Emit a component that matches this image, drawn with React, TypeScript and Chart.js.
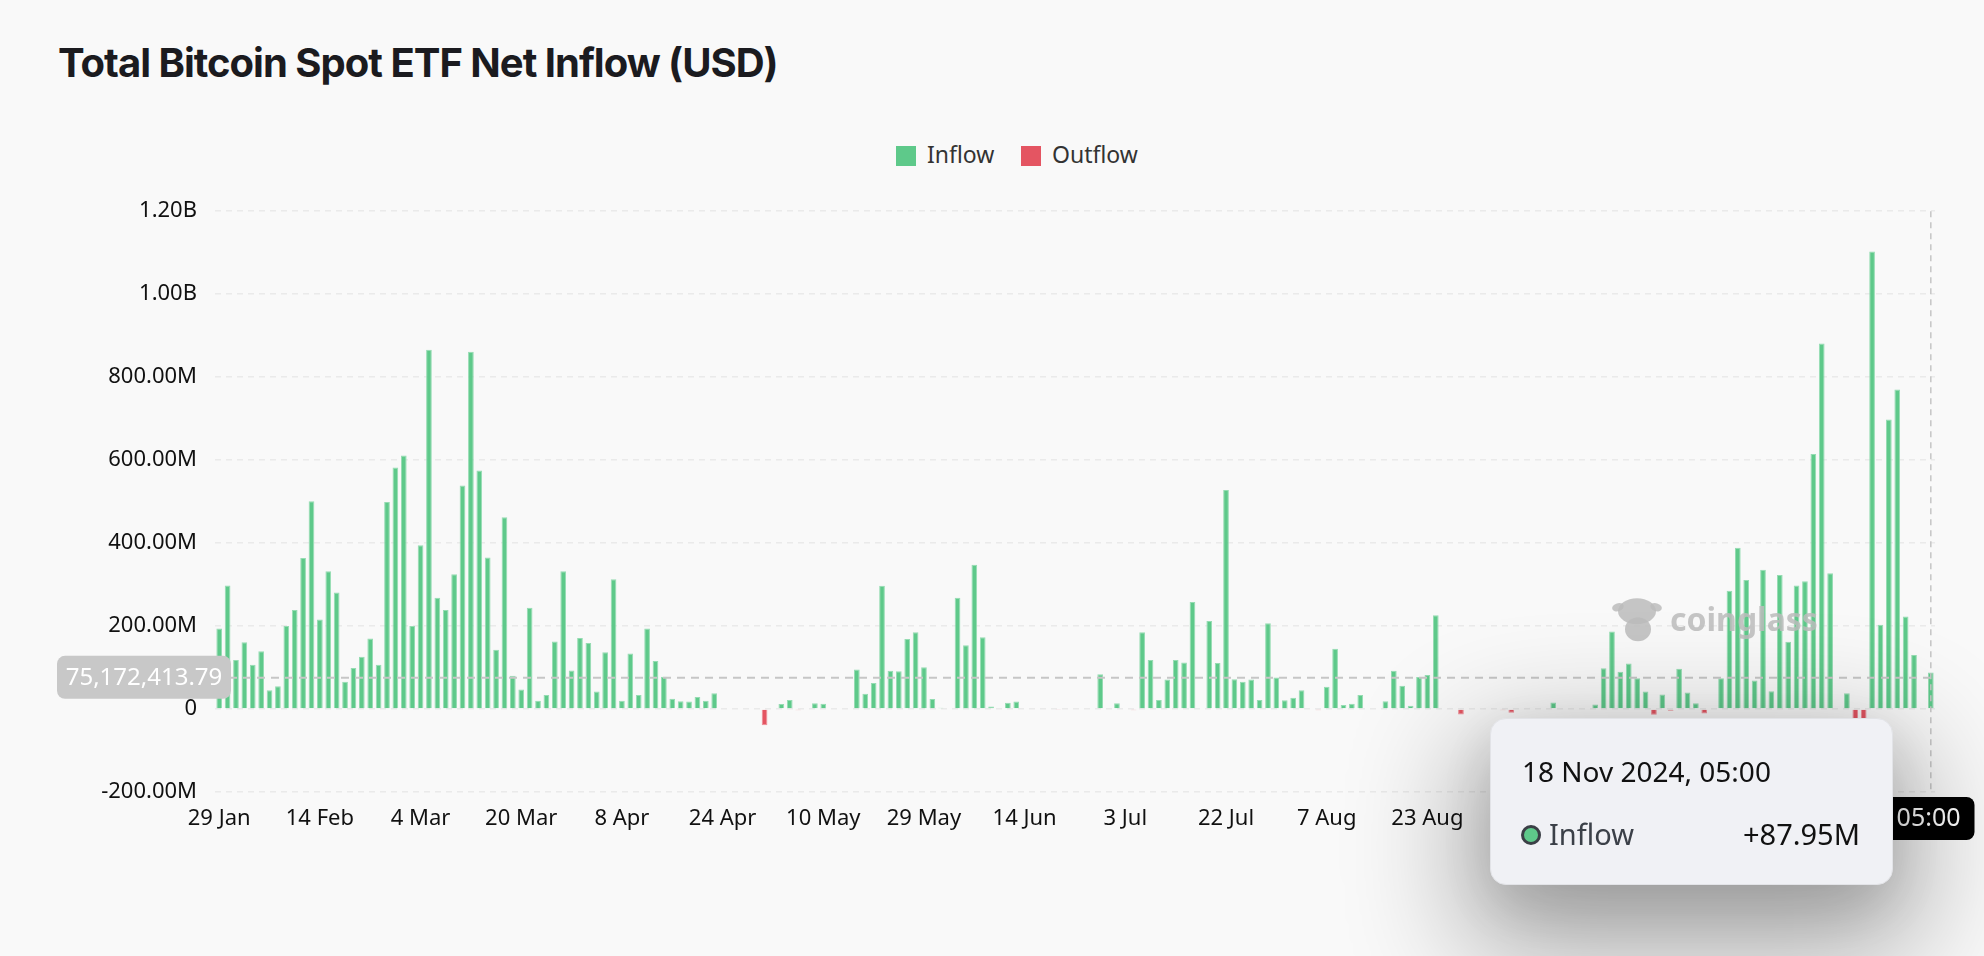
import React, { useEffect, useRef } from 'react';
import { Chart, registerables } from 'chart.js';

Chart.register(...registerables);

// Trading days (2024) shown on the category axis
const JAN = [29, 30, 31];
const FEB = [1, 2, 5, 6, 7, 8, 9, 12, 13, 14, 15, 16, 20, 21, 22, 23, 26, 27, 28, 29];
const MAR = [1, 4, 5, 6, 7, 8, 11, 12, 13, 14, 15, 18, 19, 20, 21, 22, 25, 26, 27, 28];
const APR = [1, 2, 3, 4, 5, 8, 9, 10, 11, 12, 15, 16, 17, 18, 19, 22, 23, 24, 25, 26, 29, 30];
const MAY = [1, 2, 3, 6, 7, 8, 9, 10, 13, 14, 15, 16, 17, 20, 21, 22, 23, 24, 28, 29, 30, 31];
const JUN = [3, 4, 5, 6, 7, 10, 11, 12, 13, 14, 17, 18, 20, 21, 24, 25, 26, 27, 28];
const JUL = [1, 2, 3, 5, 8, 9, 10, 11, 12, 15, 16, 17, 18, 19, 22, 23, 24, 25, 26, 29, 30, 31];
const AUG = [1, 2, 5, 6, 7, 8, 9, 12, 13, 14, 15, 16, 19, 20, 21, 22, 23, 26, 27, 28, 29, 30];
const SEP = [3, 4, 5, 6, 9, 10, 11, 12, 13, 16, 17, 18, 19, 20, 23, 24, 25, 26, 27, 30];
const OCT = [1, 2, 3, 4, 7, 8, 9, 10, 11, 14, 15, 16, 17, 18, 21, 22, 23, 24, 25, 28, 29, 30, 31];
const NOV = [1, 4, 5, 6, 7, 8, 11, 12, 13, 14, 15, 18];

const MONTHS: [string, number[]][] = [
  ['Jan', JAN], ['Feb', FEB], ['Mar', MAR], ['Apr', APR], ['May', MAY], ['Jun', JUN],
  ['Jul', JUL], ['Aug', AUG], ['Sep', SEP], ['Oct', OCT], ['Nov', NOV],
];
const CATEGORIES: string[] = MONTHS.flatMap(([m, days]) => days.map((d) => `${d} ${m}`));

const TICK_LABELS = [
  '29 Jan', '14 Feb', '4 Mar', '20 Mar', '8 Apr', '24 Apr', '10 May', '29 May', '14 Jun',
  '3 Jul', '22 Jul', '7 Aug', '23 Aug', '11 Sep', '27 Sep', '15 Oct', '31 Oct', '18 Nov',
];

// Net flow per day, millions USD (0 = no bar)
const NET_FLOW_M = [
  194, 298, 118, 161, 107, 139, 45, 55, 200, 239,
  364, 501, 216, 332, 281, 66, 99, 126, 170, 107,
  499, 582, 611, 200, 395, 866, 268, 239, 325, 539,
  861, 575, 365, 143, 462, 80, 47, 244, 20, 34,
  163, 332, 93, 171, 159, 42, 137, 313, 20, 134,
  34, 194, 116, 78, 25, 19, 18, 29, 20, 38,
  0, 0, 0, 0, 0, -39, 0, 12, 22, -3,
  0, 14, 13, 0, 0, 0, 95, 37, 63, 297,
  92, 91, 169, 185, 101, 24, 3, 0, 268, 154,
  348, 173, 6, 0, 15, 18, 2, 0, 0, 2,
  -1, 0, 0, 0, 0, 84, 0, 14, 0, -3,
  185, 118, 22, 71, 118, 112, 258, 0, 212, 111,
  528, 72, 66, 71, 22, 207, 76, 21, 27, 45,
  0, -3, 54, 145, 10, 13, 34, 2, 0, 19,
  92, 56, 8, 77, 82, 226, 0, 0, -13, 0,
  0, 0, 0, -3, -9, 0, 0, 0, 0, 16,
  0, 0, 0, 0, 11, 98, 187, 90, 110, 74,
  42, -14, 35, -4, 97, 40, 14, -11, 0, 74,
  285, 389, 311, 69, 336, 43, 323, 162, 298, 308,
  615, 881, 327, 0, 38, -27, -27, 1103, 203, 698,
  770, 223, 130, 0, 87.95,
];

const INFLOW = NET_FLOW_M.map((v) => (v > 0 ? v * 1e6 : null));
const OUTFLOW = NET_FLOW_M.map((v) => (v < 0 ? v * 1e6 : null));

const Y_MIN = -200e6;
const Y_MAX = 1.2e9;
const Y_STEP = 200e6;

// Hover state shown in the picture
const HOVER_INDEX = 204;
const HOVER_Y_VALUE = 75172413.79;
const HOVER_TITLE = '18 Nov 2024, 05:00';
const HOVER_VALUE_TEXT = '+87.95M';

const GREEN = '#5ec98a';
const RED = '#e45562';

const CANVAS_TOP = 180;
const CANVAS_W = 1984;
const CANVAS_H = 680;

function fmtY(v: number): string {
  if (v === 0) return '0';
  if (Math.abs(v) >= 1e9) return (v / 1e9).toFixed(2) + 'B';
  return (v / 1e6).toFixed(2) + 'M';
}

const overlayPlugin = {
  id: 'overlay',
  afterDatasetsDraw(chart: any) {
    const { ctx, chartArea, scales } = chart;

    // watermark
    ctx.save();
    ctx.fillStyle = 'rgba(188,188,188,0.85)';
    const lx = chartArea.right - 298;
    const ly = chartArea.top + 400;
    ctx.beginPath();
    ctx.ellipse(lx, ly, 19, 13, 0, 0, Math.PI * 2);
    ctx.fill();
    ctx.beginPath();
    ctx.ellipse(lx - 19, ly - 4, 6, 4, -0.3, 0, Math.PI * 2);
    ctx.fill();
    ctx.beginPath();
    ctx.ellipse(lx + 19, ly - 4, 6, 4, 0.3, 0, Math.PI * 2);
    ctx.fill();
    ctx.beginPath();
    ctx.ellipse(lx + 1, ly + 18, 13, 12, 0, 0, Math.PI * 2);
    ctx.fill();
    ctx.font = "bold 32px 'Noto Sans', sans-serif";
    ctx.textAlign = 'left';
    ctx.textBaseline = 'alphabetic';
    ctx.fillText('coinglass', chartArea.right - 265, chartArea.top + 420);
    ctx.restore();

    const px = scales.x.getPixelForValue(HOVER_INDEX);
    const py = scales.y.getPixelForValue(HOVER_Y_VALUE);
    ctx.save();
    ctx.strokeStyle = '#c6c6c6';
    ctx.lineWidth = 2;
    ctx.setLineDash([8, 6]);
    ctx.beginPath();
    ctx.moveTo(chartArea.left, py);
    ctx.lineTo(chartArea.right, py);
    ctx.stroke();
    ctx.lineWidth = 1.5;
    ctx.setLineDash([6, 5]);
    ctx.beginPath();
    ctx.moveTo(px, chartArea.top);
    ctx.lineTo(px, chartArea.bottom);
    ctx.stroke();
    ctx.setLineDash([]);

    // y crosshair label
    ctx.font = "24px 'Noto Sans', sans-serif";
    const yText = HOVER_Y_VALUE.toLocaleString('en-US', { minimumFractionDigits: 2, maximumFractionDigits: 2 });
    const bL = 57;
    const bR = chartArea.left + 16;
    ctx.fillStyle = '#c8c8c8';
    ctx.beginPath();
    ctx.roundRect(bL, py - 22, bR - bL, 43, 8);
    ctx.fill();
    ctx.fillStyle = '#ffffff';
    ctx.textAlign = 'center';
    ctx.textBaseline = 'middle';
    ctx.fillText(yText, (bL + bR) / 2, py);

    // x crosshair label
    ctx.font = "25px 'Noto Sans', sans-serif";
    const tw = ctx.measureText(HOVER_TITLE).width;
    const right = chart.width - 9.5;
    const bTop = chartArea.bottom + 5;
    ctx.fillStyle = '#000000';
    ctx.beginPath();
    ctx.roundRect(right - tw - 30, bTop, tw + 30, 43, 8);
    ctx.fill();
    ctx.fillStyle = '#ffffff';
    ctx.textAlign = 'right';
    ctx.fillText(HOVER_TITLE, right - 14, bTop + 22);
    ctx.restore();
  },
};

function ChartCanvas() {
  const ref = useRef<HTMLCanvasElement | null>(null);
  useEffect(() => {
    if (!ref.current) return;
    Chart.defaults.font.family = "'Noto Sans', sans-serif";
    const chart = new Chart(ref.current, {
      type: 'bar',
      data: {
        labels: CATEGORIES,
        datasets: [
          {
            label: 'Inflow',
            data: INFLOW as any,
            backgroundColor: GREEN,
            borderColor: '#95dcb2',
            borderWidth: 1,
            barPercentage: 0.68,
            categoryPercentage: 1,
          },
          {
            label: 'Outflow',
            data: OUTFLOW as any,
            backgroundColor: RED,
            borderColor: '#ee8d96',
            borderWidth: 1,
            barPercentage: 0.68,
            categoryPercentage: 1,
          },
        ],
      },
      options: {
        animation: false,
        responsive: false,
        devicePixelRatio: 1,
        layout: { padding: { top: 30, right: 49, left: 0, bottom: 0 } },
        plugins: {
          legend: { display: false },
          tooltip: { enabled: false },
        },
        scales: {
          x: {
            stacked: true,
            offset: true,
            grid: { display: false, drawTicks: false },
            border: { display: false },
            ticks: {
              autoSkip: false,
              maxRotation: 0,
              minRotation: 0,
              padding: 14,
              color: '#111111',
              font: { size: 22 },
              callback: (_v: any, i: number) => (TICK_LABELS.includes(CATEGORIES[i]) ? CATEGORIES[i] : ''),
            },
            afterFit: (s: any) => {
              s.height = 68;
            },
          },
          y: {
            stacked: true,
            min: Y_MIN,
            max: Y_MAX,
            grid: { color: '#eaeaea', lineWidth: 1.5, drawTicks: false },
            border: { display: false, dash: [6, 5] },
            ticks: {
              stepSize: Y_STEP,
              padding: 18,
              color: '#111111',
              font: { size: 22 },
              callback: (v: any) => fmtY(Number(v)),
            },
            afterFit: (s: any) => {
              s.width = 215;
            },
          },
        },
      },
      plugins: [overlayPlugin],
    });
    return () => chart.destroy();
  }, []);
  return (
    <canvas
      ref={ref}
      width={CANVAS_W}
      height={CANVAS_H}
      style={{ position: 'absolute', left: 0, top: CANVAS_TOP, width: CANVAS_W, height: CANVAS_H, display: 'block' }}
    />
  );
}

export default function App() {
  const legendText: React.CSSProperties = {
    position: 'absolute',
    top: 144,
    fontFamily: "'Noto Sans', sans-serif",
    fontSize: 23,
    lineHeight: '20px',
    color: '#333333',
    whiteSpace: 'nowrap',
  };
  return (
    <div
      style={{
        position: 'fixed',
        left: 0,
        top: 0,
        width: 1984,
        height: 956,
        background: '#f9f9f9',
        overflow: 'hidden',
      }}
    >
      <div
        style={{
          position: 'absolute',
          left: 58,
          top: 43,
          fontFamily: "Inter, 'Noto Sans', sans-serif",
          fontWeight: 700,
          fontSize: 40,
          lineHeight: '40px',
          letterSpacing: -1,
          color: '#1b1b1f',
          whiteSpace: 'nowrap',
        }}
      >
        Total Bitcoin Spot ETF Net Inflow (USD)
      </div>
      <div style={{ position: 'absolute', left: 896, top: 146, width: 20, height: 20, background: GREEN }} />
      <div style={{ ...legendText, left: 927 }}>Inflow</div>
      <div style={{ position: 'absolute', left: 1021, top: 146, width: 20, height: 20, background: RED }} />
      <div style={{ ...legendText, left: 1052 }}>Outflow</div>
      <ChartCanvas />
      <div
        style={{
          position: 'absolute',
          left: 1490,
          top: 718,
          width: 403,
          height: 167,
          boxSizing: 'border-box',
          borderRadius: 16,
          background: '#f0f1f5',
          border: '1px solid #e2e3e7',
          boxShadow: '0 45px 120px 25px rgba(0,0,0,0.32), 0 20px 60px rgba(0,0,0,0.12)',
          fontFamily: "'Noto Sans', sans-serif",
        }}
      >
        <div style={{ position: 'absolute', left: 31, top: 38, fontSize: 28, lineHeight: '28px', color: '#111111', whiteSpace: 'nowrap' }}>
          {HOVER_TITLE}
        </div>
        <div
          style={{
            position: 'absolute',
            left: 30,
            top: 106,
            width: 20,
            height: 20,
            boxSizing: 'border-box',
            borderRadius: '50%',
            border: '3px solid #3b3f46',
            background: GREEN,
          }}
        />
        <div style={{ position: 'absolute', left: 58, top: 101, fontSize: 29, lineHeight: '28px', color: '#3b4048', whiteSpace: 'nowrap' }}>
          Inflow
        </div>
        <div style={{ position: 'absolute', right: 32, top: 101, fontSize: 29, lineHeight: '28px', color: '#111111', whiteSpace: 'nowrap' }}>
          {HOVER_VALUE_TEXT}
        </div>
      </div>
    </div>
  );
}
